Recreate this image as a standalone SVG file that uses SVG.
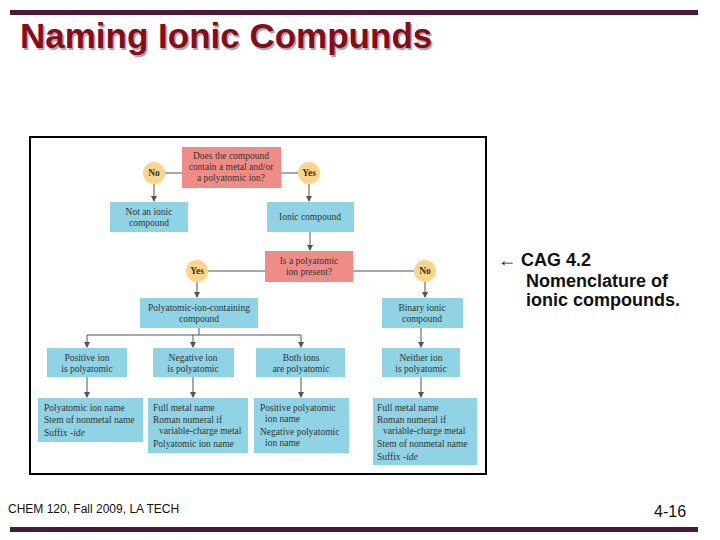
<svg xmlns="http://www.w3.org/2000/svg" width="720" height="540" viewBox="0 0 720 540">
<style>
.q{fill:#f08c86}.b{fill:#8fd3e4}.c{fill:#fbd58a}
.t{font-family:"Liberation Serif",serif;font-size:9.5px;fill:#333}
.m{text-anchor:middle}
.y{font-family:"Liberation Serif",serif;font-size:9.5px;font-weight:bold;fill:#333;text-anchor:middle}
.l{stroke:#555;stroke-width:1;fill:none}
.a{stroke:#555;stroke-width:1;fill:none;marker-end:url(#ar)}
.s{font-family:"Liberation Sans",sans-serif;font-size:18px;font-weight:bold;fill:#111}
</style>
<defs><marker id="ar" markerWidth="6" markerHeight="6" refX="5" refY="3" orient="auto" markerUnits="userSpaceOnUse"><path d="M0,0L6,3L0,6z" fill="#555"/></marker></defs>
<rect x="10" y="10" width="688" height="5" fill="#4a1a3a"/>
<rect x="10" y="527" width="688" height="5" fill="#4a1a3a"/>
<text x="21.5" y="49.5" font-family="Liberation Sans,sans-serif" font-size="35" font-weight="bold" fill="#aaa">Naming Ionic Compunds</text>
<text x="20" y="48" font-family="Liberation Sans,sans-serif" font-size="35" font-weight="bold" fill="#8b0a1a">Naming Ionic Compunds</text>
<rect x="30" y="137" width="456" height="337" fill="#fff" stroke="#000" stroke-width="2"/>
<g id="connectors">
<path class="l" d="M165,173H182M281,173H298M208,271H265M353,271H414M87,335H301"/>
<path class="a" d="M154,184V201"/><path class="a" d="M309,184V201"/><path class="a" d="M310,232V250"/>
<path class="a" d="M197,282V297"/><path class="a" d="M425,282V297"/>
<path class="l" d="M199,328V335"/><path class="a" d="M421,328V347"/>
<path class="a" d="M87,335V347"/><path class="a" d="M193,335V347"/><path class="a" d="M301,335V347"/>
<path class="a" d="M87,377V397"/><path class="a" d="M193,377V397"/><path class="a" d="M301,377V397"/><path class="a" d="M421,377V397"/>
</g>
<g id="q1"><rect class="q" x="182" y="147" width="99" height="41"/><text class="t m" x="231" y="159">Does the compound</text><text class="t m" x="231" y="170">contain a metal and/or</text><text class="t m" x="231" y="181">a polyatomic ion?</text></g>
<g id="no1"><circle class="c" cx="154" cy="173" r="11"/><text class="y" x="154" y="176">No</text></g>
<g id="yes1"><circle class="c" cx="309" cy="173" r="11"/><text class="y" x="309" y="176">Yes</text></g>
<g id="notionic"><rect class="b" x="110" y="202" width="78" height="30"/><text class="t m" x="149" y="215">Not an ionic</text><text class="t m" x="149" y="226">compound</text></g>
<g id="ionic"><rect class="b" x="267" y="202" width="87" height="30"/><text class="t m" x="310" y="220">Ionic compound</text></g>
<g id="q2"><rect class="q" x="265" y="251" width="88" height="31"/><text class="t m" x="309" y="264">Is a polyatomic</text><text class="t m" x="309" y="275">ion present?</text></g>
<g id="yes2"><circle class="c" cx="197" cy="271" r="11"/><text class="y" x="197" y="274">Yes</text></g>
<g id="no2"><circle class="c" cx="425" cy="271" r="11"/><text class="y" x="425" y="274">No</text></g>
<g id="poly"><rect class="b" x="140" y="298" width="118" height="30"/><text class="t m" x="199" y="311">Polyatomic-ion-containing</text><text class="t m" x="199" y="322">compound</text></g>
<g id="binary"><rect class="b" x="382" y="298" width="81" height="30"/><text class="t m" x="422" y="311">Binary ionic</text><text class="t m" x="422" y="322">compound</text></g>
<g id="pos"><rect class="b" x="47" y="348" width="80" height="29"/><text class="t m" x="87" y="361">Positive ion</text><text class="t m" x="87" y="372">is polyatomic</text></g>
<g id="neg"><rect class="b" x="153" y="348" width="81" height="29"/><text class="t m" x="193" y="361">Negative ion</text><text class="t m" x="193" y="372">is polyatomic</text></g>
<g id="both"><rect class="b" x="256" y="348" width="89" height="29"/><text class="t m" x="301" y="361">Both ions</text><text class="t m" x="301" y="372">are polyatomic</text></g>
<g id="neither"><rect class="b" x="382" y="348" width="78" height="29"/><text class="t m" x="421" y="361">Neither ion</text><text class="t m" x="421" y="372">is polyatomic</text></g>
<g id="r1"><rect class="b" x="38" y="398" width="105" height="44"/><text class="t" x="44" y="411">Polyatomic ion name</text><text class="t" x="44" y="423">Stem of nonmetal name</text><text class="t" x="44" y="436">Suffix <tspan font-style="italic">-ide</tspan></text></g>
<g id="r2"><rect class="b" x="148" y="398" width="100" height="55"/><text class="t" x="153" y="411">Full metal name</text><text class="t" x="153" y="423">Roman numeral if</text><text class="t" x="159" y="434">variable-charge metal</text><text class="t" x="153" y="447">Polyatomic ion name</text></g>
<g id="r3"><rect class="b" x="254" y="398" width="95" height="55"/><text class="t" x="260" y="411">Positive polyatomic</text><text class="t" x="265" y="422">ion name</text><text class="t" x="260" y="435">Negative polyatomic</text><text class="t" x="265" y="446">ion name</text></g>
<g id="r4"><rect class="b" x="373" y="398" width="104" height="67"/><text class="t" x="377" y="411">Full metal name</text><text class="t" x="377" y="423">Roman numeral if</text><text class="t" x="383" y="434">variable-charge metal</text><text class="t" x="377" y="447">Stem of nonmetal name</text><text class="t" x="377" y="460">Suffix <tspan font-style="italic">-ide</tspan></text></g>
<text class="s" x="498" y="266"><tspan font-weight="normal">← </tspan>CAG 4.2</text>
<text class="s" x="526" y="287">Nomenclature of</text>
<text class="s" x="526" y="306">ionic compounds.</text>
<text x="8" y="513" font-family="Liberation Sans,sans-serif" font-size="12" fill="#111">CHEM 120, Fall 2009, LA TECH</text>
<text x="654" y="517" font-family="Liberation Sans,sans-serif" font-size="16" fill="#111">4-16</text>
</svg>
